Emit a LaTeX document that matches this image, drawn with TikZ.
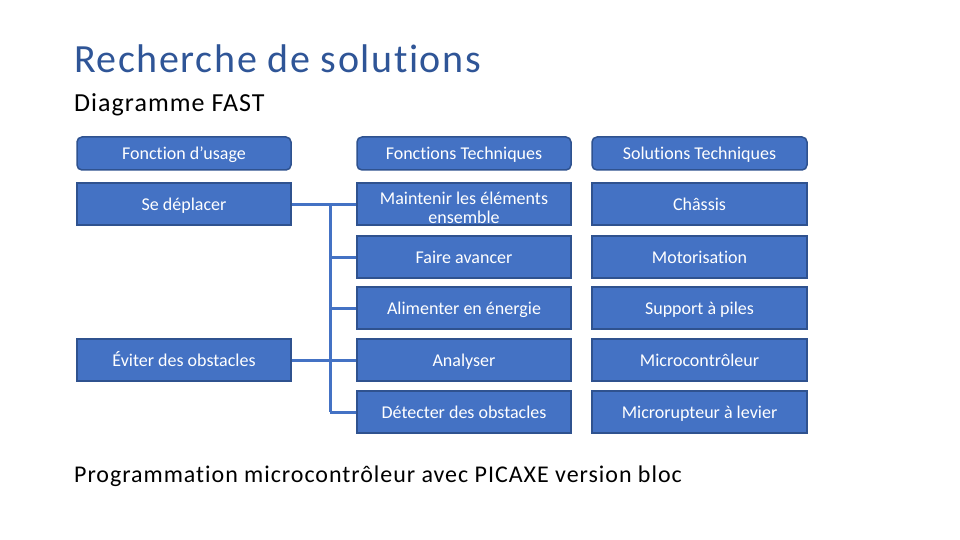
\documentclass[tikz,border=0pt]{standalone}
\usepackage{fontspec}
\setmainfont{Carlito}[Ligatures=NoCommon]
\newfontfamily\spacedfont{Carlito}[Ligatures=NoCommon, LetterSpace=4]
\definecolor{boxfill}{HTML}{4472C4}
\definecolor{boxline}{HTML}{2F528F}
\definecolor{titleblue}{HTML}{2F5597}
\begin{document}
\begin{tikzpicture}[x=1pt,y=-1pt,
  cellbase/.style={draw=boxline, fill=boxfill, line width=1.5pt, text=white,
    minimum height=42pt, minimum width=214pt, inner sep=0pt, align=center},
  cell/.style={cellbase, font=\fontsize{18}{21}\selectfont, text height=13pt, text depth=0pt},
  twoline/.style={cellbase, font=\fontsize{18}{19}\selectfont, text height=38pt, text depth=0pt},
  head/.style={cell, rounded corners=5pt, minimum height=33pt},
  conn/.style={draw=boxfill, line width=3pt}]
\useasboundingbox (0,0) rectangle (960,540);
\fill[white] (0,0) rectangle (960,540);
% titles
\node[anchor=base west, inner sep=0pt, text=titleblue, font=\spacedfont\fontsize{40}{44}\selectfont] (title) at (74,73) {Recherche de solutions};
\node[anchor=base west, inner sep=0pt, font=\spacedfont\fontsize{26}{30}\selectfont] (sub) at (74,112) {Diagramme FAST};
\node[anchor=base west, inner sep=0pt, font=\spacedfont\fontsize{24}{28}\selectfont] (prog) at (74,482) {Programmation microcontrôleur avec PICAXE version bloc};
% headers
\node[head] (h1) at (184,153.5) {Fonction d’usage};
\node[head] (h2) at (464,153.5) {Fonctions Techniques};
\node[head, minimum width=215pt] (h3) at (699.5,153.5) {Solutions Techniques};
% left column
\node[cell] (fu1) at (184,204) {Se déplacer};
\node[cell] (fu2) at (184,360) {Éviter des obstacles};
% middle column
\node[twoline] (ft1) at (464,204) {Maintenir les éléments\\ensemble};
\node[cell] (ft2) at (464,257) {Faire avancer};
\node[cell] (ft3) at (464,308) {Alimenter en énergie};
\node[cell] (ft4) at (464,360) {Analyser};
\node[cell] (ft5) at (464,412) {Détecter des obstacles};
% right column
\node[cell, minimum width=215pt] (st1) at (699.5,204) {Châssis};
\node[cell, minimum width=215pt] (st2) at (699.5,257) {Motorisation};
\node[cell, minimum width=215pt] (st3) at (699.5,308) {Support à piles};
\node[cell, minimum width=215pt] (st4) at (699.5,360) {Microcontrôleur};
\node[cell, minimum width=215pt] (st5) at (699.5,412) {Microrupteur à levier};
% connectors
\coordinate (j1) at (330,204);
\coordinate (j2) at (330,257);
\coordinate (j3) at (330,308);
\coordinate (j4) at (330,360);
\coordinate (j5) at (330,412);
\draw[conn] (fu1.east) -- (j1) -- (ft1.west);
\draw[conn] (j1) -- (j5);
\draw[conn] (j2) -- (ft2.west);
\draw[conn] (j3) -- (ft3.west);
\draw[conn] (fu2.east) -- (j4) -- (ft4.west);
\draw[conn] (j5) -- (ft5.west);
\end{tikzpicture}
\end{document}
